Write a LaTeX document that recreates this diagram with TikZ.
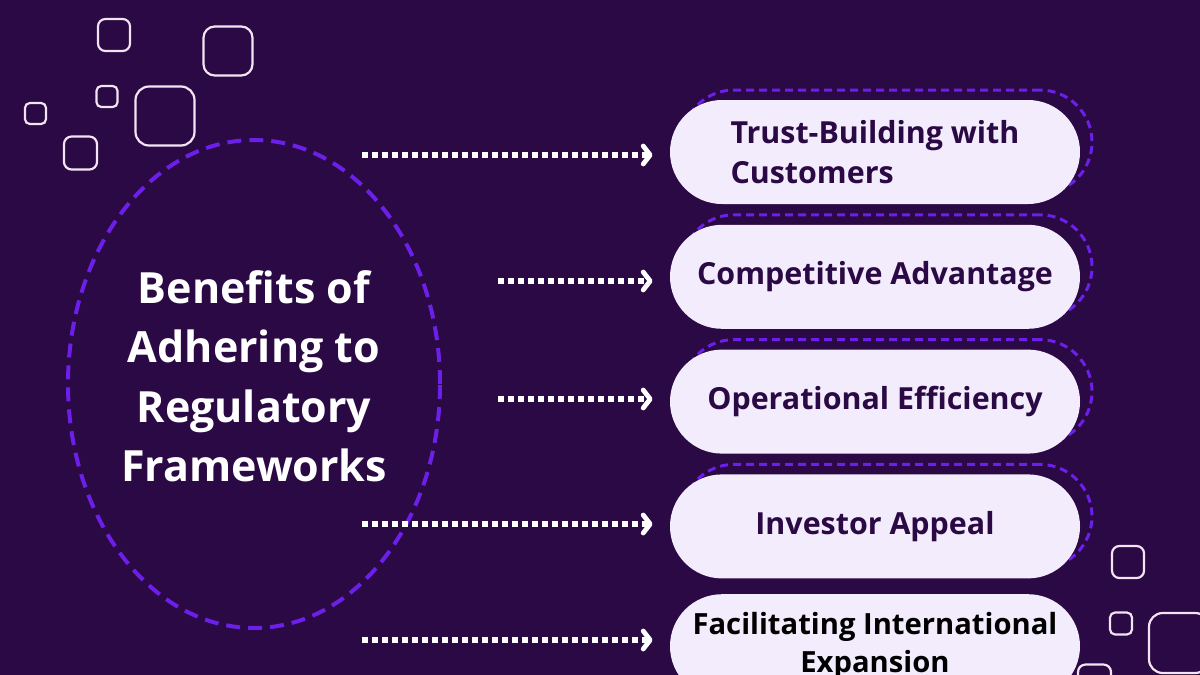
\documentclass[tikz,border=0pt]{standalone}
\usepackage{fontspec}
\setmainfont{Open Sans}
\usepackage{tikz}
\usetikzlibrary{positioning,arrows.meta,shapes.geometric}

\definecolor{bgpurple}{HTML}{2A0944}
\definecolor{vio}{HTML}{6C1FE8}
\definecolor{pillfill}{HTML}{F3ECFC}
\definecolor{decoline}{HTML}{F3E4F3}

\pgfdeclarelayer{back}
\pgfdeclarelayer{ghosts}
\pgfsetlayers{back,ghosts,main}

\begin{document}
\begin{tikzpicture}[x=0.5pt, y=-0.5pt, font=\bfseries,
  hub/.style={ellipse, draw=vio, line width=2pt, dash pattern=on 7pt off 4pt, minimum width=186pt, minimum height=244pt, inner sep=0pt},
  hubtext/.style={align=center, text=white, inner sep=0pt, font=\bfseries\fontsize{21.5}{29.75}\selectfont},
  pill/.style={draw=none, fill=pillfill, rounded corners=26pt, minimum width=205pt, minimum height=52pt, inner sep=0pt, align=center, text=bgpurple, font=\bfseries\fontsize{15.2}{20}\selectfont},
  ghost/.style={draw=vio, line width=1.5pt, dash pattern=on 4pt off 2.5pt, rounded corners=26pt, minimum width=205pt, minimum height=52pt, inner sep=0pt},
  deco/.style={draw=decoline, line width=1.1pt, inner sep=0pt},
  dotarr/.style={draw=white, line width=2.8pt, dash pattern=on 2.8pt off 2.2pt, shorten >=8.5pt, -{Straight Barb[length=3.5pt, width=9pt, line width=2.4pt, round]}}]
\begin{pgfonlayer}{back}
\fill[bgpurple] (0,0) rectangle (1200,675);
\end{pgfonlayer}
\useasboundingbox (0,0) rectangle (1200,675);
\clip (0,0) rectangle (1200,675);

% decorative squares
\foreach \x/\y/\s [count=\i] in {114/35/32, 228/51/49, 107/96.5/21, 165/116/59, 35.5/113.5/21, 80.5/153/33, 1128/562/32, 1121/623.5/22, 1179/643/60, 1094.5/681/33}
  \node[deco, minimum size=\s*0.5pt, rounded corners=\s*0.115pt] (sq\i) at (\x,\y) {};

% centre
\node[hub] (hub) at (254,384) {};
\node[hubtext] (title) at (254,376.5) {Benefits of\\Adhering to\\Regulatory\\Frameworks};

% benefits
\node[pill, align=left] (b1) at (875,152) {Trust-Building with\\Customers};
\node[pill, below=10pt of b1] (b2) {Competitive Advantage};
\node[pill, below=10pt of b2] (b3) {Operational Efficiency};
\node[pill, below=10pt of b3] (b4) {Investor Appeal};
\node[pill, below=7.5pt of b4, text=black, font=\bfseries\fontsize{14.6}{19}\selectfont] (b5) {Facilitating International\\Expansion};

\begin{pgfonlayer}{ghosts}
\foreach \b in {b1,b2,b3,b4}
  \node[ghost] (g\b) at ([shift={(6pt,5pt)}]\b.center) {};
\end{pgfonlayer}

% arrows
\coordinate (s1) at (362,155);
\coordinate (s2) at (498,281);
\coordinate (s3) at (498,399);
\coordinate (s4) at (362,524);
\coordinate (s5) at (362,640);
\foreach \i in {1,...,5}
  \draw[dotarr] (s\i) -- (b\i.west |- s\i);
\end{tikzpicture}
\end{document}
